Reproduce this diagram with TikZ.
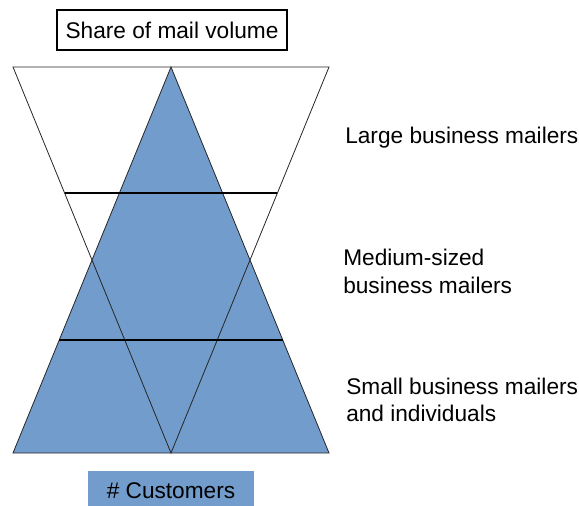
\documentclass[tikz,border=0pt]{standalone}
\usepackage{fontspec}
\setmainfont{Liberation Sans}
\usepackage{tikz}
\usetikzlibrary{calc}
\definecolor{mailblue}{RGB}{114,156,204}
\tikzset{
    edge line/.style={line width=0.6pt, black!85},
    side label/.style={anchor=west, inner sep=0pt, align=left}
}

\begin{document}
\begin{tikzpicture}[x=0.75pt, y=-0.75pt, font=\fontsize{17}{20.5}\selectfont]
        \useasboundingbox (0,0) rectangle (579,506);
        \coordinate (tl) at (13,67);
        \coordinate (tp) at (171,67);
        \coordinate (tr) at (329,67);
        \coordinate (bl) at (13,453);
        \coordinate (bp) at (171,453);
        \coordinate (br) at (329,453);
        \fill[mailblue] (tp) -- (bl) -- (br) -- cycle;
        \draw[edge line] (tp) -- (bl) -- (br) -- cycle;
        \draw[edge line] (tl) -- (tr) -- (bp) -- cycle;
        \draw[line width=0.9pt] ($(tl)!0.3264!(bp)$) -- ($(tr)!0.3264!(bp)$);
        \draw[line width=0.9pt] ($(tp)!0.7073!(bl)$) -- ($(tp)!0.7073!(br)$);
        \node[draw, line width=0.9pt, minimum width=172.5pt, minimum height=30pt] (volume) at (172,30) {Share of mail volume};
        \node[fill=mailblue, minimum width=124.5pt, minimum height=30pt] (customers) at (171,491) {\# Customers};
        \node[side label] (large) at (345,138) {Large business mailers};
        \node[side label] (medium) at (343,271.5) {Medium-sized\\business mailers};
        \node[side label] (small) at (346,400) {Small business mailers\\and individuals};
\end{tikzpicture}
\end{document}
